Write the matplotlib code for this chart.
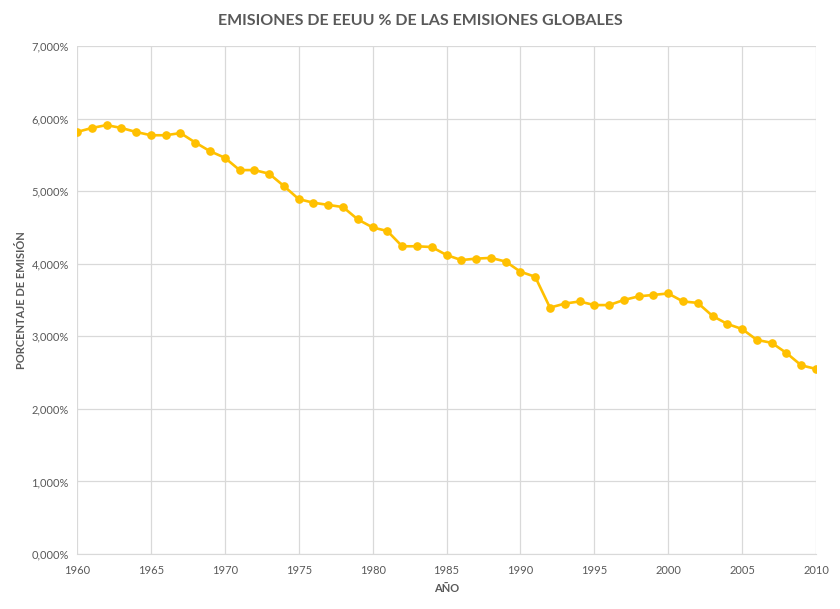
import matplotlib.pyplot as plt

years = list(range(1960, 2011))
share = [5.815, 5.87, 5.91, 5.87, 5.815, 5.77, 5.77, 5.80, 5.67, 5.55,
         5.46, 5.29, 5.29, 5.24, 5.07, 4.89, 4.84, 4.81, 4.78, 4.61,
         4.50, 4.45, 4.24, 4.24, 4.23, 4.12, 4.05, 4.07, 4.08, 4.03,
         3.89, 3.82, 3.395, 3.45, 3.48, 3.43, 3.43, 3.50, 3.55, 3.57,
         3.59, 3.48, 3.46, 3.28, 3.17, 3.10, 2.95, 2.91, 2.77, 2.60,
         2.55]

x_ticks = list(range(1960, 2011, 5))
y_ticks = [0, 1, 2, 3, 4, 5, 6, 7]

plt.rcParams['font.family'] = ['Lato', 'DejaVu Sans']

fig = plt.figure(figsize=(8.4, 6.09), dpi=100)
ax = fig.add_axes([0.0917, 0.0903, 0.8797, 0.8342])

ax.plot(years, share, color='#FFC000', linewidth=1.9, marker='o',
        markersize=5.2, zorder=3)

ax.set_xlim(1960, 2010)
ax.set_ylim(0, 7)
ax.set_xticks(x_ticks)
ax.set_yticks(y_ticks)
ax.set_yticklabels(['{:.3f}%'.format(v).replace('.', ',') for v in y_ticks])
ax.grid(True, color='#d9d9d9', linewidth=0.9)
ax.set_axisbelow(True)
ax.tick_params(length=0, labelsize=8, labelcolor='#595959', pad=8)
ax.tick_params(axis='y', pad=6)

for side in ['top', 'right', 'left']:
    ax.spines[side].set_visible(False)
ax.spines['bottom'].set_color('#d9d9d9')

fig.text(0.5, 0.965, 'EMISIONES DE EEUU % DE LAS EMISIONES GLOBALES',
         ha='center', va='center', fontsize=11.5, fontweight='bold', color='#595959')
ax.set_xlabel('AÑO', fontsize=8, fontweight='bold', color='#595959', labelpad=5)
ax.set_ylabel('PORCENTAJE DE EMISIÓN', fontsize=8, fontweight='bold',
              color='#595959')
ax.yaxis.set_label_coords(-0.068, 0.5)

fig.savefig('out.png', dpi=100)
